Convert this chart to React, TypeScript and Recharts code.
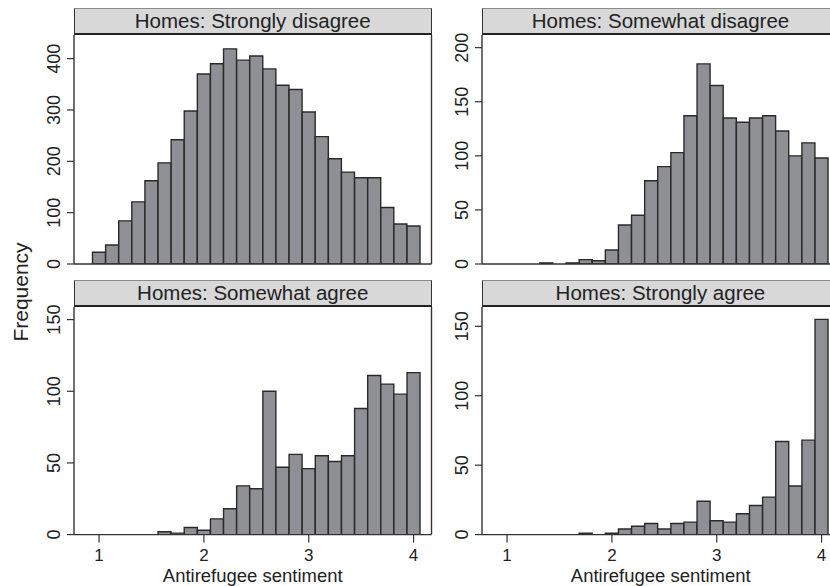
import { BarChart, Bar, XAxis, YAxis, ReferenceLine } from "recharts";

const binCenters = [
  1, 1.125, 1.25, 1.375, 1.5, 1.625, 1.75, 1.875, 2, 2.125, 2.25, 2.375, 2.5,
  2.625, 2.75, 2.875, 3, 3.125, 3.25, 3.375, 3.5, 3.625, 3.75, 3.875, 4,
];

const stronglyDisagree = [23, 37, 84, 121, 162, 197, 242, 298, 370, 390, 419, 397, 405, 380, 348, 340, 296, 248, 205, 179, 168, 168, 110, 78, 74];
const somewhatDisagree = [0, 0, 0, 1, 0, 1, 4, 3, 13, 36, 45, 77, 90, 103, 137, 185, 165, 135, 131, 135, 137, 123, 100, 112, 98];
const somewhatAgree = [0, 0, 0, 0, 0, 2, 1, 5, 3, 11, 18, 34, 32, 100, 47, 56, 46, 55, 51, 55, 88, 111, 105, 98, 113];
const stronglyAgree = [0, 0, 0, 0, 0, 0, 1, 0, 1, 4, 6, 8, 4, 8, 9, 24, 10, 9, 15, 21, 27, 67, 35, 68, 155];

const panelTitles = [
  "Homes: Strongly disagree",
  "Homes: Somewhat disagree",
  "Homes: Somewhat agree",
  "Homes: Strongly agree",
];

const ticksStronglyDisagree = [0, 100, 200, 300, 400];
const ticksSomewhatDisagree = [0, 50, 100, 150, 200];
const ticksSomewhatAgree = [0, 50, 100, 150];
const ticksStronglyAgree = [0, 50, 100, 150];
const xTicks = [1, 2, 3, 4];

const xTitle = "Antirefugee sentiment";
const yTitle = "Frequency";

const FONT = "'Liberation Sans', Arial, Helvetica, sans-serif";
const INK = "#222";
const X_DOMAIN: [number, number] = [0.761, 4.171];
const PLOT_W = 357.5;
const STRIP_H = 26.7;

function YTick(props: any) {
  const { x, y, payload } = props;
  return (
    <text
      x={x}
      y={y}
      transform={`rotate(-90 ${x} ${y})`}
      textAnchor="middle"
      fontSize={18}
      fill={INK}
      fontFamily={FONT}
    >
      {payload.value}
    </text>
  );
}

type PanelProps = {
  values: number[];
  title: string;
  yMax: number;
  yTicks: number[];
  plotLeft: number;
  plotTop: number;
  plotH: number;
  bottom: boolean;
};

function Panel({ values, title, yMax, yTicks, plotLeft, plotTop, plotH, bottom }: PanelProps) {
  const data = binCenters.map((x, i) => ({ x, n: values[i] }));
  const mTop = 12;
  const axisH = bottom ? 51 : 4;
  const mBottom = 4;
  const axisW = 44;
  const mLeft = 30;
  const mRight = 12;
  return (
    <>
      <div
        style={{
          position: "absolute",
          left: plotLeft,
          top: plotTop - STRIP_H,
          width: PLOT_W,
          height: STRIP_H,
          boxSizing: "border-box",
          background: "#d8d8d8",
          borderTop: "1px solid #8a8a8a",
          borderLeft: "1.3px solid #333",
          borderRight: "1.3px solid #333",
          borderBottom: "2px solid #222",
          textAlign: "center",
          fontSize: 20.5,
          lineHeight: `${STRIP_H - 3}px`,
          color: INK,
          fontFamily: FONT,
          whiteSpace: "nowrap",
        }}
      >
        {title}
      </div>
      <div style={{ position: "absolute", left: plotLeft - mLeft - axisW, top: plotTop - mTop }}>
        <BarChart
          width={mLeft + axisW + PLOT_W + mRight}
          height={mTop + plotH + axisH + mBottom}
          data={data}
          margin={{ top: mTop, right: mRight, bottom: mBottom, left: mLeft }}
          barCategoryGap={0}
          barGap={0}
        >
          <XAxis
            dataKey="x"
            type="number"
            domain={X_DOMAIN}
            allowDataOverflow
            ticks={xTicks}
            interval={0}
            height={axisH}
            tick={bottom ? { fontSize: 17, fill: INK, fontFamily: FONT } : false}
            tickLine={bottom ? { stroke: "#333", strokeWidth: 1.2 } : false}
            tickSize={8}
            tickMargin={6}
            axisLine={{ stroke: "#333", strokeWidth: 1.4 }}
            label={
              bottom
                ? { value: xTitle, position: "insideBottom", offset: 4, fontSize: 18.5, fill: INK, fontFamily: FONT }
                : undefined
            }
          />
          <YAxis
            type="number"
            domain={[0, yMax]}
            allowDataOverflow
            ticks={yTicks}
            interval={0}
            width={axisW}
            tick={<YTick />}
            tickSize={7}
            tickMargin={7}
            tickLine={{ stroke: "#333", strokeWidth: 1.2 }}
            axisLine={{ stroke: "#333", strokeWidth: 1.4 }}
          />
          <ReferenceLine x={X_DOMAIN[1]} stroke="#333" strokeWidth={1.4} />
          <Bar dataKey="n" fill="#8f9095" stroke="#2a2a2a" strokeWidth={1.4} isAnimationActive={false} />
        </BarChart>
      </div>
    </>
  );
}

export default function App() {
  return (
    <div
      style={{
        position: "absolute",
        left: 0,
        top: 0,
        width: 830,
        height: 586,
        overflow: "hidden",
        background: "#fff",
        fontFamily: FONT,
      }}
    >
      <Panel values={stronglyDisagree} title={panelTitles[0]} yMax={446} yTicks={ticksStronglyDisagree}
        plotLeft={74} plotTop={35} plotH={229} bottom={false} />
      <Panel values={somewhatDisagree} title={panelTitles[1]} yMax={211.7} yTicks={ticksSomewhatDisagree}
        plotLeft={481.7} plotTop={35} plotH={229} bottom={false} />
      <Panel values={somewhatAgree} title={panelTitles[2]} yMax={158.8} yTicks={ticksSomewhatAgree}
        plotLeft={74} plotTop={306.7} plotH={227.6} bottom={true} />
      <Panel values={stronglyAgree} title={panelTitles[3]} yMax={163.9} yTicks={ticksStronglyAgree}
        plotLeft={481.7} plotTop={306.7} plotH={227.6} bottom={true} />
      <div
        style={{
          position: "absolute",
          left: 21,
          top: 292,
          transform: "translate(-50%, -50%) rotate(-90deg)",
          fontSize: 21,
          color: INK,
          whiteSpace: "nowrap",
        }}
      >
        {yTitle}
      </div>
    </div>
  );
}
